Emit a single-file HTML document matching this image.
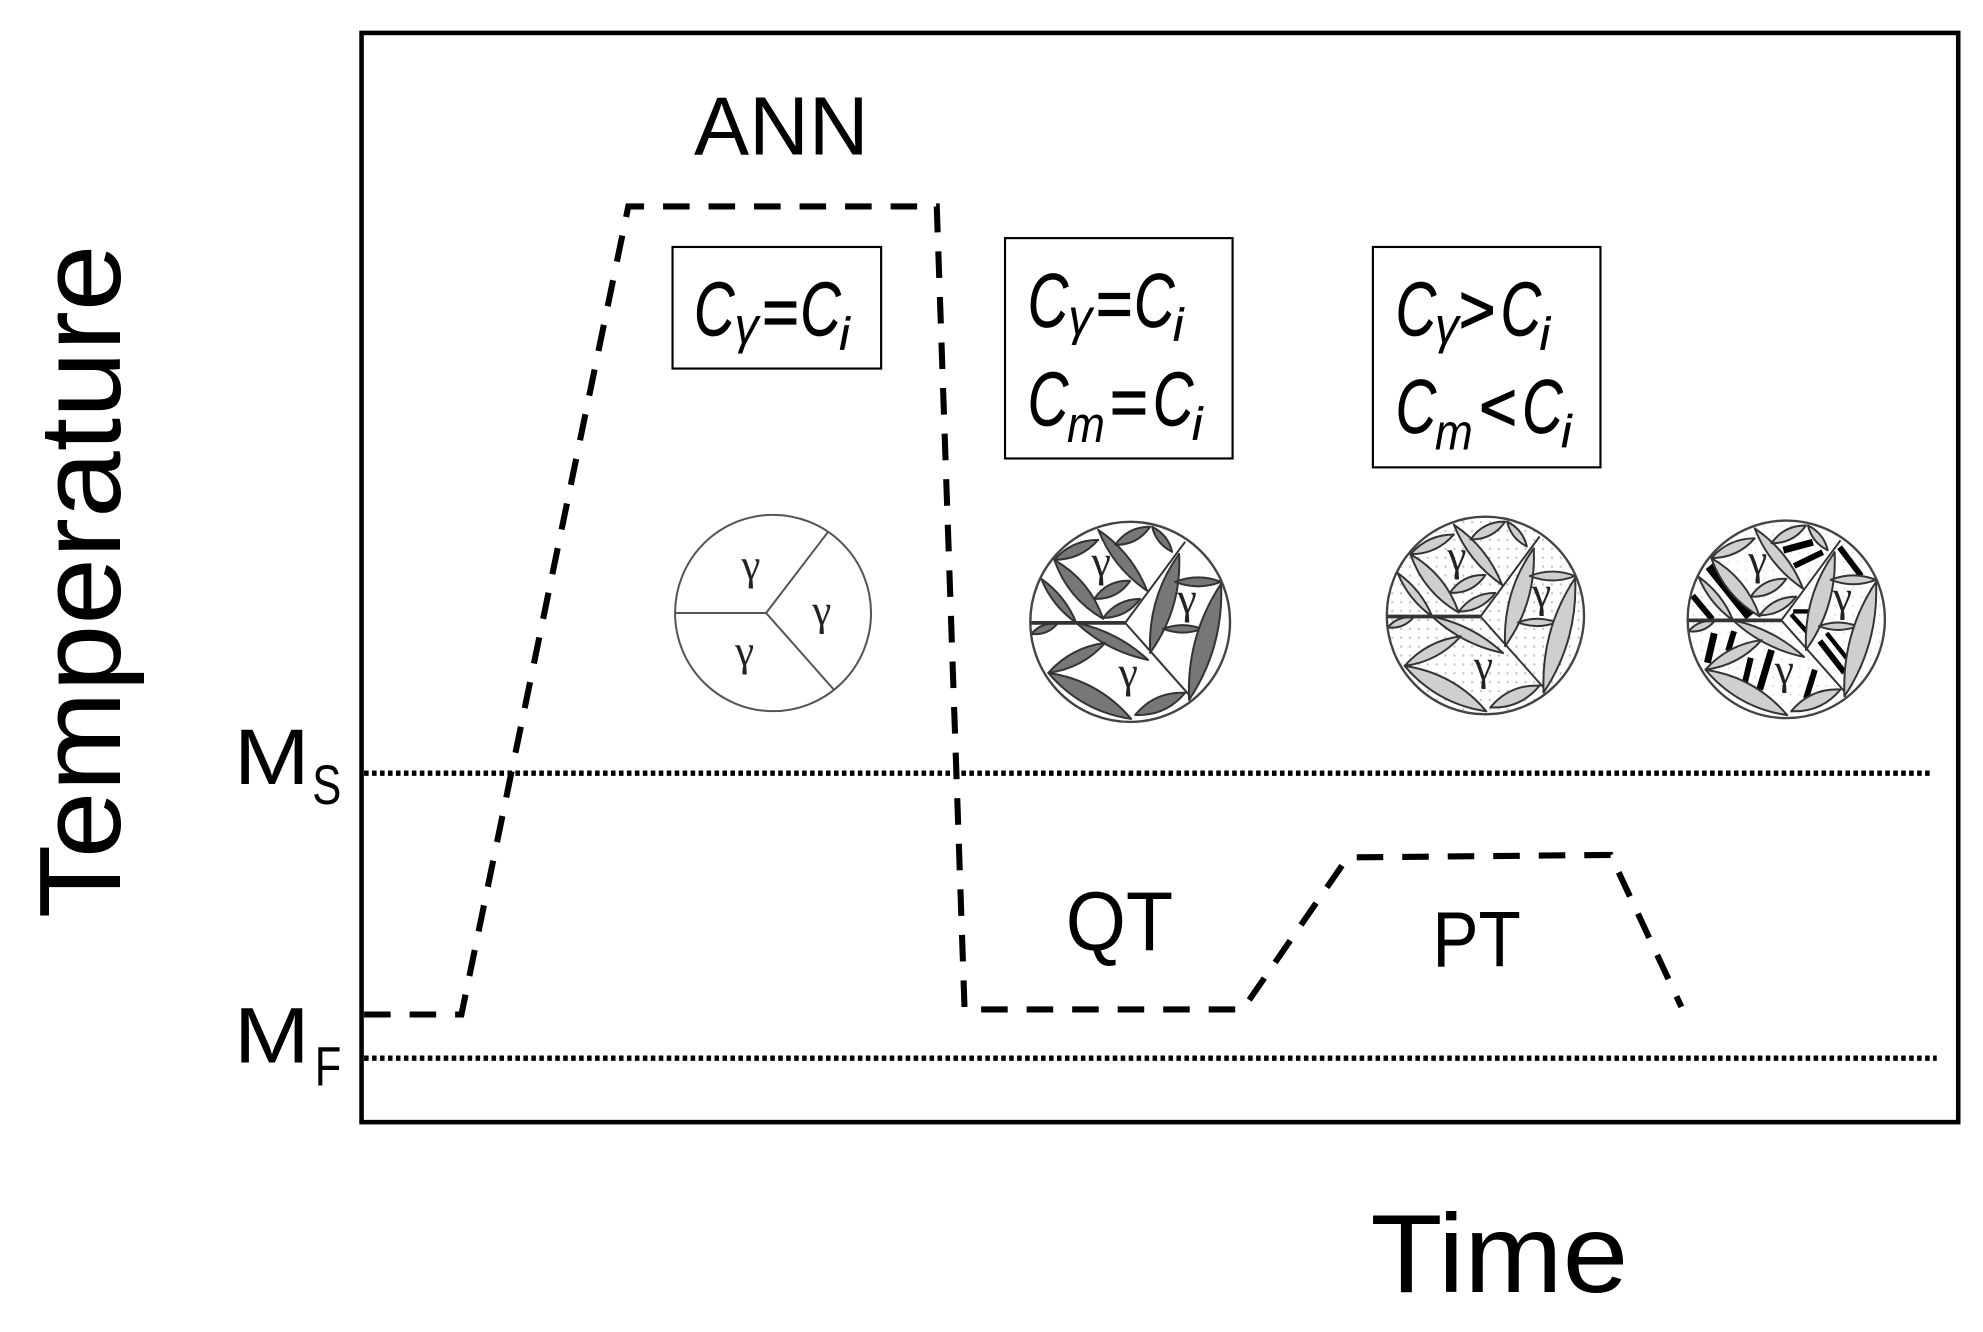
<!DOCTYPE html>
<html><head><meta charset="utf-8"><style>
html,body{margin:0;padding:0;background:#fff;width:1983px;height:1332px;overflow:hidden}
svg{display:block}
text{font-family:"Liberation Sans",sans-serif;fill:#000}
.i{font-style:italic;stroke:#000;stroke-width:.5}
.g{font-family:"Liberation Serif",serif;font-size:44px;fill:#222;text-anchor:middle}
.g1{font-family:"Liberation Serif",serif;font-size:34px;fill:#222;text-anchor:middle}
.eq{stroke:#000;stroke-width:1}
</style></head><body>
<svg width="1983" height="1332" viewBox="0 0 1568.6 1051.7" xmlns="http://www.w3.org/2000/svg" preserveAspectRatio="none">
<defs>
<pattern id="dots" width="9" height="9" patternUnits="userSpaceOnUse"><circle cx="4.5" cy="4.5" r="1.200" fill="#c4c4c4"/></pattern>
<pattern id="dots2" width="9" height="9" patternUnits="userSpaceOnUse"><circle cx="4.5" cy="4.5" r="1" fill="#e0e0e0"/></pattern>
<g id="micro" stroke="#333" stroke-width="2" stroke-linejoin="round">
<path d="M-76-62Q-49.500-62-32-82Q-58.500-82-76-62Z"/>
<path d="M-32-92Q-17-54 17-31Q2-69-32-92Z"/>
<path d="M-15-77Q7.300-76.700 20-95Q-2.300-95.300-15-77Z"/>
<path d="M22-95Q26.100-77.800 42-70Q37.900-87.200 22-95Z"/>
<path d="M-76-62Q-62.500-23.300-27-3Q-40.500-41.700-76-62Z"/>
<path d="M-89-43Q-78-15.900-54 1Q-65-26.100-89-43Z"/>
<path d="M-36-23Q-12.900-22 0-41Q-23.100-42-36-23Z"/>
<path d="M-27-4Q-3.700-4.200 10-23Q-13.300-22.800-27-4Z"/>
<path d="M20 31Q51.800-13.400 49-68Q17.200-23.600 20 31Z"/>
<path d="M45-40Q68-31 91-40Q68-49 45-40Z"/>
<path d="M33 7Q52.500 14.500 72 7Q52.500-.5 33 7Z"/>
<path d="M59 78Q93.900 25.300 91-38Q56.100 14.700 59 78Z"/>
<path d="M-54 1Q-23.100 29.500 18 38Q-12.900 9.500-54 1Z"/>
<path d="M-82 51Q-47.800 46.600-25 21Q-59.200 25.400-82 51Z"/>
<path d="M-82 51Q-49.200 89.600 1 97Q-31.800 58.400-82 51Z"/>
<path d="M5 93Q35.400 94.500 55 71Q24.600 69.500 5 93Z"/>
<path d="M-99 12Q-83.300 14-73 2Q-88.700 0-99 12Z"/>
<path d="M-100 1H-5" fill="none" stroke-width="3.8"/>
<path d="M-5 1L55-80M-5 1L59 73" fill="none"/>
<circle r="100" fill="none" stroke-width="2.4" stroke="#444"/>
</g>
</defs>

<rect x="286" y="26" width="1263" height="860" fill="none" stroke="#000" stroke-width="3.6"/>

<path d="M288 801H365L497 163H741L763 797H983L1066 677L1274 675L1330 795" fill="none" stroke="#000" stroke-width="4.8" stroke-dasharray="21 15"/>
<path d="M288 610.500H1528M288 835.500H1532" fill="none" stroke="#000" stroke-width="4.2" stroke-dasharray="3.600 2.700"/>

<text x="549" y="122" font-size="65" textLength="138" lengthAdjust="spacingAndGlyphs">ANN</text>
<text transform="translate(95,725) rotate(-90)" font-size="92" textLength="532" lengthAdjust="spacingAndGlyphs">Temperature</text>
<text x="1084" y="1020" font-size="88" textLength="204" lengthAdjust="spacingAndGlyphs">Time</text>
<text x="185" y="619" font-size="62" textLength="60" lengthAdjust="spacingAndGlyphs">M</text>
<text x="247" y="635" font-size="44" textLength="23" lengthAdjust="spacingAndGlyphs">S</text>
<text x="185" y="839" font-size="62" textLength="60" lengthAdjust="spacingAndGlyphs">M</text>
<text x="249" y="857" font-size="44" textLength="21" lengthAdjust="spacingAndGlyphs">F</text>
<text x="843" y="750" font-size="66" textLength="85" lengthAdjust="spacingAndGlyphs">QT</text>
<text x="1133" y="763" font-size="62" textLength="70" lengthAdjust="spacingAndGlyphs">PT</text>

<g fill="#fff" stroke="#000" stroke-width="1.7">
<rect x="532" y="195" width="165" height="96"/>
<rect x="795" y="188" width="180" height="174"/>
<rect x="1086" y="195" width="180" height="174"/>
</g>

<!-- box 1 -->
<text class="i" x="549" y="265" font-size="60" textLength="32" lengthAdjust="spacingAndGlyphs">C</text>
<text x="581" y="271" font-size="40" font-style="italic" textLength="19" lengthAdjust="spacingAndGlyphs">γ</text>
<text class="eq" x="603" y="265" font-size="54" textLength="29" lengthAdjust="spacingAndGlyphs">=</text>
<text class="i" x="633" y="265" font-size="60" textLength="32" lengthAdjust="spacingAndGlyphs">C</text>
<text class="i" x="664" y="276" font-size="36">i</text>
<!-- box 2 -->
<text class="i" x="813" y="258" font-size="60" textLength="32" lengthAdjust="spacingAndGlyphs">C</text>
<text x="845" y="264" font-size="40" font-style="italic" textLength="19" lengthAdjust="spacingAndGlyphs">γ</text>
<text class="eq" x="867" y="258" font-size="54" textLength="29" lengthAdjust="spacingAndGlyphs">=</text>
<text class="i" x="897" y="258" font-size="60" textLength="32" lengthAdjust="spacingAndGlyphs">C</text>
<text class="i" x="928" y="269" font-size="36">i</text>
<text class="i" x="813" y="336" font-size="60" textLength="32" lengthAdjust="spacingAndGlyphs">C</text>
<text x="844" y="349" font-size="40" font-style="italic" textLength="30" lengthAdjust="spacingAndGlyphs">m</text>
<text class="eq" x="878" y="336" font-size="54" textLength="30" lengthAdjust="spacingAndGlyphs">=</text>
<text class="i" x="912" y="336" font-size="60" textLength="32" lengthAdjust="spacingAndGlyphs">C</text>
<text class="i" x="943" y="347" font-size="36">i</text>
<!-- box 3 -->
<text class="i" x="1104" y="265" font-size="60" textLength="32" lengthAdjust="spacingAndGlyphs">C</text>
<text x="1135" y="271" font-size="40" font-style="italic" textLength="19" lengthAdjust="spacingAndGlyphs">γ</text>
<text class="eq" x="1154" y="263" font-size="54" textLength="29" lengthAdjust="spacingAndGlyphs">&gt;</text>
<text class="i" x="1187" y="265" font-size="60" textLength="32" lengthAdjust="spacingAndGlyphs">C</text>
<text class="i" x="1218" y="276" font-size="36">i</text>
<text class="i" x="1104" y="342" font-size="60" textLength="32" lengthAdjust="spacingAndGlyphs">C</text>
<text x="1135" y="355" font-size="40" font-style="italic" textLength="30" lengthAdjust="spacingAndGlyphs">m</text>
<text class="eq" x="1170" y="340" font-size="54" textLength="30" lengthAdjust="spacingAndGlyphs">&lt;</text>
<text class="i" x="1204" y="342" font-size="60" textLength="32" lengthAdjust="spacingAndGlyphs">C</text>
<text class="i" x="1235" y="353" font-size="36">i</text>

<!-- circle 1 -->
<g fill="none" stroke="#555" stroke-width="1.6">
<circle cx="611.500" cy="484" r="77.500"/>
<path d="M534 484H606L655 420M606 484L660 545"/>
</g>
<text class="g1" x="594" y="457">γ</text>
<text class="g1" x="650" y="493">γ</text>
<text class="g1" x="589" y="525">γ</text>

<!-- circle 2 -->
<g transform="translate(894,491) scale(.79)">
<circle r="100" fill="#fff"/>
<use href="#micro" fill="#777"/>
<text class="g" x="-29" y="-46">γ</text><text class="g" x="57" y="-9">γ</text><text class="g" x="-2" y="65">γ</text>
</g>

<!-- circle 3 -->
<g transform="translate(1175,486) scale(.78)">
<circle r="100" fill="url(#dots)"/>
<use href="#micro" fill="#cfcfcf"/>
<text class="g" x="-29" y="-46">γ</text><text class="g" x="57" y="-9">γ</text><text class="g" x="-2" y="65">γ</text>
</g>

<!-- circle 4 -->
<g transform="translate(1413,489) scale(.78)">
<circle r="100" fill="url(#dots2)"/>
<g stroke="#000" fill="none" stroke-linecap="butt">
<path stroke-width="7" d="M-3-70L27-78M-73 14L-80 44M-15 31L-27 71"/>
<path stroke-width="10" d="M-78-54L-37-3"/>
<path stroke-width="6" d="M8-54L37-68M54-73L76-44M-95-24L-75 0M-53 12L-59 32M-36 39L-42 64M29 51L20 80M34 22L59 54"/>
<path stroke-width="4.500" d="M7-8L27-8M5-5L22 14M41 14L61 39"/>
</g>
<use href="#micro" fill="#cfcfcf"/>
<text class="g" x="-29" y="-46">γ</text><text class="g" x="57" y="-9">γ</text><text class="g" x="-2" y="65">γ</text>
</g>
</svg>
</body></html>
